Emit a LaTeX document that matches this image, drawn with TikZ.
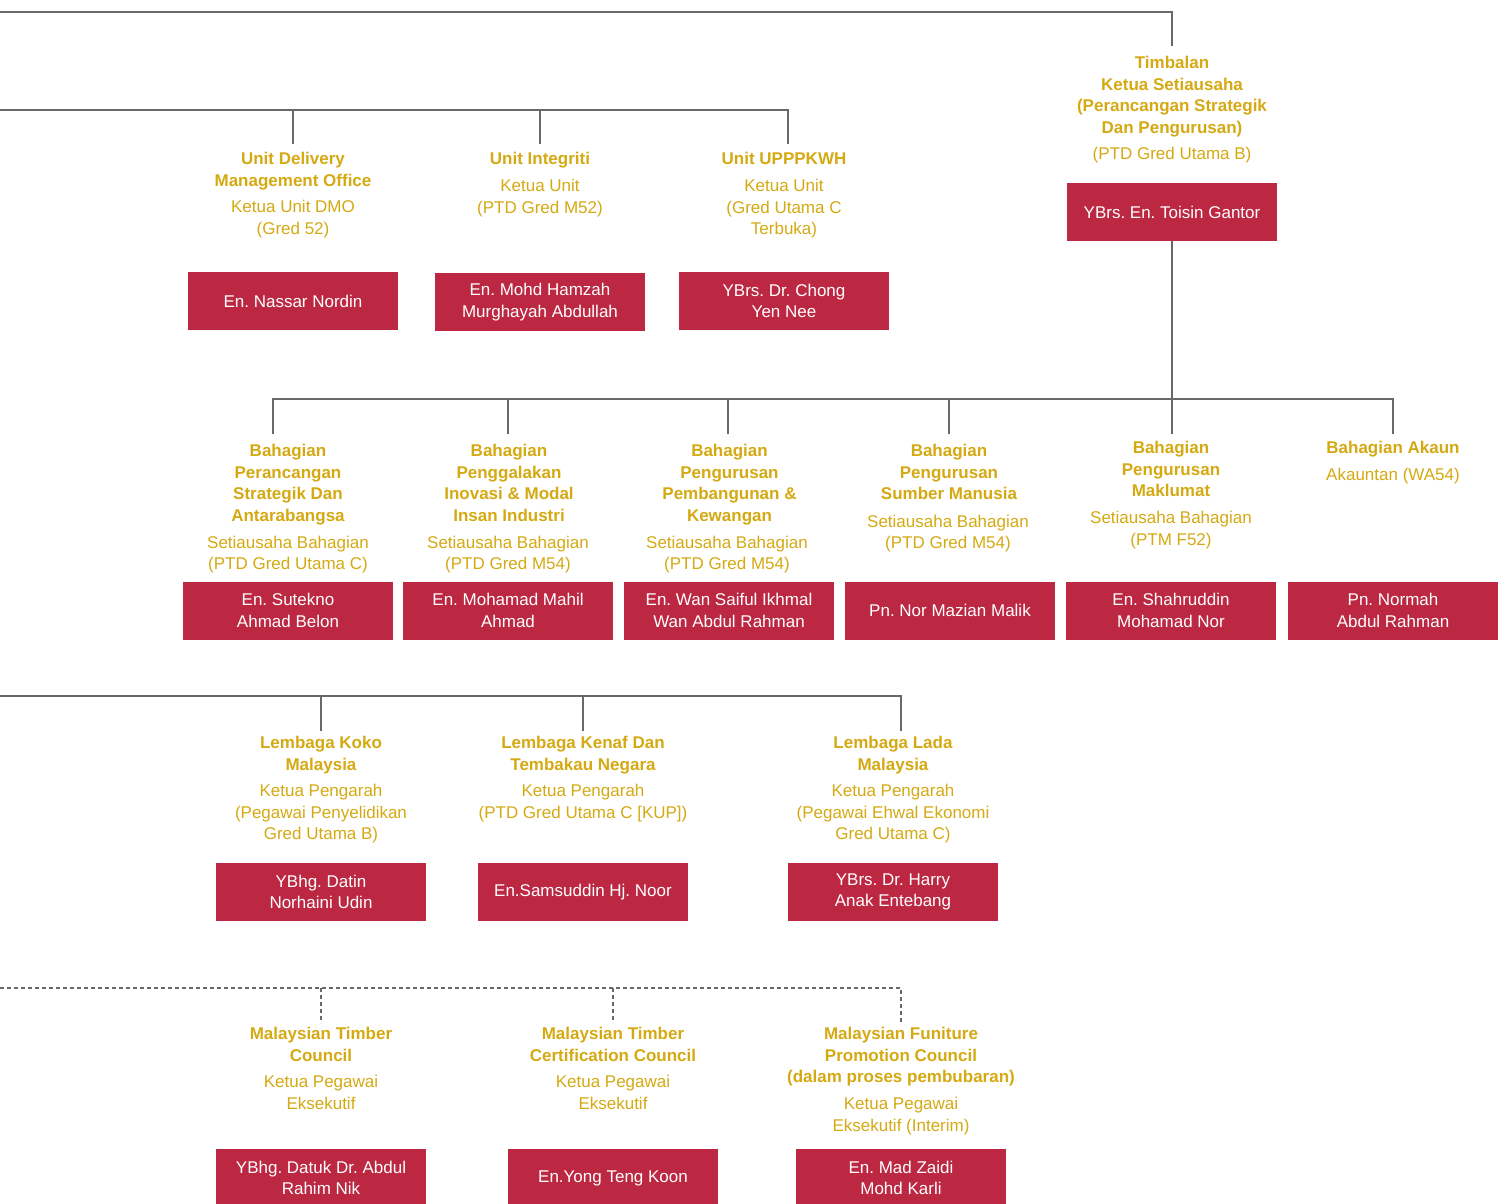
\documentclass[tikz,border=0pt]{standalone}
\usepackage{fontspec}
\setmainfont{Liberation Sans}
\definecolor{gold}{RGB}{212,169,18}
\definecolor{boxred}{RGB}{188,39,66}
\definecolor{linegrey}{RGB}{105,105,105}
\begin{document}
\frenchspacing
\begin{tikzpicture}[x=1pt,y=-1pt,
  ttl/.style={font=\fontsize{17}{21.5}\selectfont\bfseries, text=gold, align=center, inner sep=0pt, anchor=north},
  sub/.style={font=\fontsize{17}{21.5}\selectfont, text=gold, align=center, inner sep=0pt, anchor=north},
  person/.style={fill=boxred, text=white, font=\fontsize{17}{21.5}\selectfont, align=center, minimum width=210pt, minimum height=58pt, inner sep=0pt},
  conn/.style={draw=linegrey, line width=1.2pt},
  dconn/.style={conn, dash pattern=on 4pt off 3pt}]
\useasboundingbox (0,0) rectangle (1507,1203);

% ---------- top branch ----------
\coordinate (topL) at (0,12);
\coordinate (topR) at (1172,12);
\coordinate (tkD) at (1172,46);
\draw[conn] (topL) -- (topR) -- (tkD);

\node[ttl] (tkT) at (1172,56) {Timbalan\\Ketua Setiausaha\\(Perancangan Strategik\\Dan Pengurusan)};
\node[sub] (tkS) at (1172,147) {(PTD Gred Utama B)};
\node[person] (tkP) at (1172,212) {YBrs. En. Toisin Gantor};

% ---------- units row ----------
\coordinate (u0) at (0,110);
\coordinate (u1) at (293,110);
\coordinate (u2) at (540,110);
\coordinate (u3) at (788,110);
\coordinate (u1d) at (293,144);
\coordinate (u2d) at (540,144);
\coordinate (u3d) at (788,144);
\draw[conn] (u0) -- (u3) -- (u3d);
\draw[conn] (u1) -- (u1d);
\draw[conn] (u2) -- (u2d);

\node[ttl] (dmoT) at (293,152) {Unit Delivery\\Management Office};
\node[sub] (dmoS) at (293,200) {Ketua Unit DMO\\(Gred 52)};
\node[person] (dmoP) at (293,301) {En. Nassar Nordin};

\node[ttl] (intT) at (540,152) {Unit Integriti};
\node[sub] (intS) at (540,179) {Ketua Unit\\(PTD Gred M52)};
\node[person] (intP) at (540,302) {En. Mohd Hamzah\\Murghayah Abdullah};

\node[ttl] (upT) at (784,152) {Unit UPPPKWH};
\node[sub] (upS) at (784,179) {Ketua Unit\\(Gred Utama C\\Terbuka)};
\node[person] (upP) at (784,301) {YBrs. Dr. Chong\\Yen Nee};

% ---------- bahagian row ----------
\coordinate (b1) at (273,399);
\coordinate (b2) at (508,399);
\coordinate (b3) at (728,399);
\coordinate (b4) at (949,399);
\coordinate (b5) at (1172,399);
\coordinate (b6) at (1393,399);
\coordinate (b1d) at (273,434);
\coordinate (b2d) at (508,434);
\coordinate (b3d) at (728,434);
\coordinate (b4d) at (949,434);
\coordinate (b5d) at (1172,434);
\coordinate (b6d) at (1393,434);
\draw[conn] (tkP.south) -- (b5d);
\draw[conn] (b1d) -- (b1) -- (b6) -- (b6d);
\draw[conn] (b2) -- (b2d);
\draw[conn] (b3) -- (b3d);
\draw[conn] (b4) -- (b4d);

\node[ttl] (psT) at (288,444) {Bahagian\\Perancangan\\Strategik Dan\\Antarabangsa};
\node[sub] (psS) at (288,535.5) {Setiausaha Bahagian\\(PTD Gred Utama C)};
\node[person] (psP) at (288,610.5) {En. Sutekno\\Ahmad Belon};

\node[ttl] (piT) at (509,444) {Bahagian\\Penggalakan\\Inovasi \& Modal\\Insan Industri};
\node[sub] (piS) at (508,535.5) {Setiausaha Bahagian\\(PTD Gred M54)};
\node[person] (piP) at (508,610.5) {En. Mohamad Mahil\\Ahmad};

\node[ttl] (pkT) at (729.5,444) {Bahagian\\Pengurusan\\Pembangunan \&\\Kewangan};
\node[sub] (pkS) at (727,535.5) {Setiausaha Bahagian\\(PTD Gred M54)};
\node[person] (pkP) at (729,610.5) {En. Wan Saiful Ikhmal\\Wan Abdul Rahman};

\node[ttl] (smT) at (949,444) {Bahagian\\Pengurusan\\Sumber Manusia};
\node[sub] (smS) at (948,514.5) {Setiausaha Bahagian\\(PTD Gred M54)};
\node[person] (smP) at (950,610.5) {Pn. Nor Mazian Malik};

\node[ttl] (mkT) at (1171,441) {Bahagian\\Pengurusan\\Maklumat};
\node[sub] (mkS) at (1171,511) {Setiausaha Bahagian\\(PTM F52)};
\node[person] (mkP) at (1171,610.5) {En. Shahruddin\\Mohamad Nor};

\node[ttl] (akT) at (1393,441) {Bahagian Akaun};
\node[sub] (akS) at (1393,468) {Akauntan (WA54)};
\node[person] (akP) at (1393,610.5) {Pn. Normah\\Abdul Rahman};

% ---------- lembaga row ----------
\coordinate (l0) at (0,696);
\coordinate (l1) at (321,696);
\coordinate (l2) at (583,696);
\coordinate (l3) at (901,696);
\coordinate (l1d) at (321,731);
\coordinate (l2d) at (583,731);
\coordinate (l3d) at (901,731);
\draw[conn] (l0) -- (l3) -- (l3d);
\draw[conn] (l1) -- (l1d);
\draw[conn] (l2) -- (l2d);

\node[ttl] (kkT) at (321,736) {Lembaga Koko\\Malaysia};
\node[sub] (kkS) at (321,784) {Ketua Pengarah\\(Pegawai Penyelidikan\\Gred Utama B)};
\node[person] (kkP) at (321,892) {YBhg. Datin\\Norhaini Udin};

\node[ttl] (knT) at (583,736) {Lembaga Kenaf Dan\\Tembakau Negara};
\node[sub] (knS) at (583,784) {Ketua Pengarah\\(PTD Gred Utama C [KUP])};
\node[person] (knP) at (583,892) {En.Samsuddin Hj. Noor};

\node[ttl] (ldT) at (893,736) {Lembaga Lada\\Malaysia};
\node[sub] (ldS) at (893,784) {Ketua Pengarah\\(Pegawai Ehwal Ekonomi\\Gred Utama C)};
\node[person] (ldP) at (893,892) {YBrs. Dr. Harry\\Anak Entebang};

% ---------- council row (dashed) ----------
\coordinate (c0) at (0,988);
\coordinate (c1) at (321,988);
\coordinate (c2) at (613,988);
\coordinate (c3) at (901,988);
\coordinate (c1d) at (321,1023);
\coordinate (c2d) at (613,1023);
\coordinate (c3d) at (901,1023);
\draw[dconn] (c0) -- (c3) -- (c3d);
\draw[dconn] (c1) -- (c1d);
\draw[dconn] (c2) -- (c2d);

\node[ttl] (mtT) at (321,1027) {Malaysian Timber\\Council};
\node[sub] (mtS) at (321,1075) {Ketua Pegawai\\Eksekutif};
\node[person] (mtP) at (321,1178) {YBhg. Datuk Dr. Abdul\\Rahim Nik};

\node[ttl] (mcT) at (613,1027) {Malaysian Timber\\Certification Council};
\node[sub] (mcS) at (613,1075) {Ketua Pegawai\\Eksekutif};
\node[person] (mcP) at (613,1178) {En.Yong Teng Koon};

\node[ttl] (mfT) at (901,1027) {Malaysian Funiture\\Promotion Council\\(dalam proses pembubaran)};
\node[sub] (mfS) at (901,1097) {Ketua Pegawai\\Eksekutif (Interim)};
\node[person] (mfP) at (901,1178) {En. Mad Zaidi\\Mohd Karli};
\end{tikzpicture}
\end{document}
